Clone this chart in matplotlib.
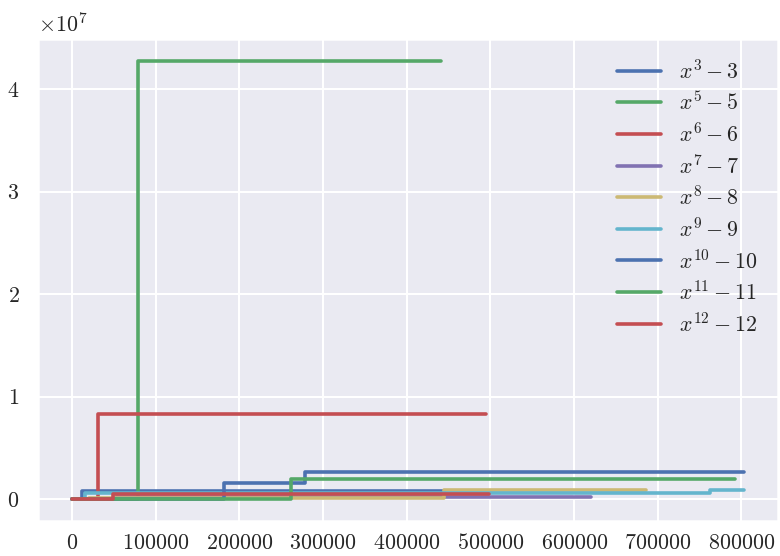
import matplotlib
matplotlib.use("Agg")
import matplotlib.pyplot as plt
import seaborn as sns

sns.set_theme(style="darkgrid", context="notebook")
plt.rcParams.update({
    "font.family": "serif",
    "font.serif": ["cmr10", "DejaVu Serif"],
    "mathtext.fontset": "cm",
    "axes.formatter.use_mathtext": True,
    "axes.unicode_minus": False,
    "legend.frameon": False,
    "lines.linewidth": 1.8,
    "xtick.major.pad": 0,
})

palette = ["#4C72B0", "#55A868", "#C44E52", "#8172B2", "#CCB974", "#64B5CD"]

labels = [r"$x^{3}-3$", r"$x^{5}-5$", r"$x^{6}-6$", r"$x^{7}-7$", r"$x^{8}-8$",
          r"$x^{9}-9$", r"$x^{10}-10$", r"$x^{11}-11$", r"$x^{12}-12$"]

# step breakpoints (x) and the level held from each breakpoint onward (y)
x3 = [0, 12000, 444000]
y3 = [0, 0.76e6, 0.76e6]

x5 = [0, 78600, 441000]
y5 = [0, 4.276e7, 4.276e7]

x6 = [0, 31000, 495000]
y6 = [0, 8.29e6, 8.29e6]

x7 = [0, 52000, 620000]
y7 = [0, 0.25e6, 0.25e6]

x8 = [0, 20000, 444000, 686000]
y8 = [0, 0.1e6, 0.88e6, 0.88e6]

x9 = [0, 15000, 762000, 803000]
y9 = [0, 0.64e6, 0.84e6, 0.84e6]

x10 = [0, 182000, 278000, 803000]
y10 = [0, 1.56e6, 2.61e6, 2.61e6]

x11 = [0, 262000, 792000]
y11 = [0, 1.98e6, 1.98e6]

x12 = [0, 49000, 498000]
y12 = [0.03e6, 0.48e6, 0.48e6]

xs = [x3, x5, x6, x7, x8, x9, x10, x11, x12]
ys = [y3, y5, y6, y7, y8, y9, y10, y11, y12]

fig = plt.figure(figsize=(780 / 144, 556 / 144), dpi=144)
ax = fig.add_axes([38.4 / 780, 1 - 521 / 556, (777.6 - 38.4) / 780, (521 - 39) / 556])

for i, (x, y, lab) in enumerate(zip(xs, ys, labels)):
    ax.plot(x, y, drawstyle="steps-post", label=lab, color=palette[i % len(palette)])

ax.set_xticks([0, 100000, 200000, 300000, 400000, 500000, 600000, 700000, 800000])
ax.set_yticks([0, 1e7, 2e7, 3e7, 4e7])
ax.legend(loc="upper right", labelspacing=0.35)

fig.savefig("out.png", dpi=144)
